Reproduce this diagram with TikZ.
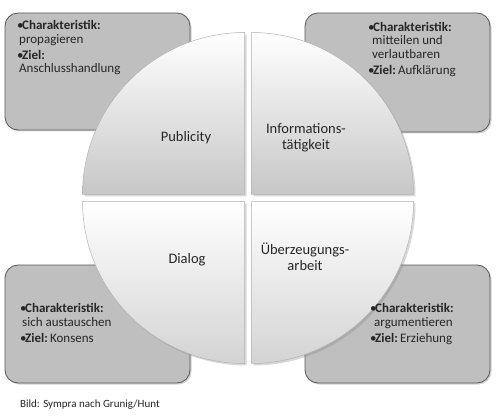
\documentclass[tikz,border=0pt]{standalone}
\usepackage{fontspec}
\setmainfont{Carlito}
\usetikzlibrary{shadows}
\definecolor{boxgray}{HTML}{BFBFBF}
\definecolor{boxedge}{HTML}{595959}
\definecolor{txt}{HTML}{262626}
\newcommand\bul{\makebox[5pt][l]{•}}
\tikzset{
  infobox/.style={draw=boxedge, line width=0.8pt, fill=boxgray, rounded corners=13pt,
     drop shadow={shadow xshift=1.5pt, shadow yshift=-1.5pt, opacity=0.35}},
  quadtop/.style={top color=white, bottom color=black!22, draw=black!30, line width=0.5pt,
     drop shadow={shadow xshift=2pt, shadow yshift=-2pt, opacity=0.3}},
  quadbot/.style={top color=white, bottom color=black!17, draw=black!30, line width=0.5pt,
     drop shadow={shadow xshift=2pt, shadow yshift=-2pt, opacity=0.3}},
  boxtext/.style={anchor=base west, align=left, inner sep=0pt, text=txt,
     font=\fontsize{13}{14}\selectfont},
  quadlabel/.style={anchor=base, align=center, inner sep=0pt, text=txt,
     font=\fontsize{14.5}{16.5}\selectfont},
}
\begin{document}
\begin{tikzpicture}[x=1pt,y=1pt]
\useasboundingbox (0,0) rectangle (500,418);
\fill[white] (0,0) rectangle (500,418);
% boxes
\path[infobox] (5,288) rectangle (190,405);
\path[infobox] (305,286) rectangle (490,405);
\path[infobox] (5,35) rectangle (190,153);
\path[infobox] (305,35) rectangle (490,153);
% quadrants
\path[quadtop] (244.5,223.5) -- (82.5,223.5) arc[start angle=180,end angle=90,radius=162] -- cycle;
\path[quadtop] (251.5,223.5) -- (251.5,385.5) arc[start angle=90,end angle=0,radius=162] -- cycle;
\path[quadbot] (244.5,216.5) -- (82.5,216.5) arc[start angle=180,end angle=270,radius=162] -- cycle;
\path[quadbot] (251.5,216.5) -- (251.5,54.5) arc[start angle=270,end angle=360,radius=162] -- cycle;
% box texts (anchored at the baseline of the last line)
\node[boxtext] (tl) at (17,345) {\bul\textbf{Charakteristik:}\\[-0.5pt]\hspace*{2pt}propagieren\\[2pt]\bul\textbf{Ziel:}\\[-0.5pt]\hspace*{2pt}Anschlusshandlung};
\node[boxtext] (tr) at (368,343) {\bul\textbf{Charakteristik:}\\[-0.5pt]\hspace*{4pt}mitteilen und\\\hspace*{4pt}verlautbaren\\[2pt]\bul\textbf{Ziel:}\,Aufklärung};
\node[boxtext] (bl) at (20,76) {\bul\textbf{Charakteristik:}\\[-0.5pt]\hspace*{2pt}sich austauschen\\[2pt]\bul\textbf{Ziel:}\,Konsens};
\node[boxtext] (br) at (370,76) {\bul\textbf{Charakteristik:}\\[-0.5pt]\hspace*{4pt}argumentieren\\[2pt]\bul\textbf{Ziel:}\,Erziehung};
% quadrant labels
\node[quadlabel] (pub) at (186,276) {Publicity};
\node[quadlabel] (inf) at (306,268) {Informations-\\tätigkeit};
\node[quadlabel] (dia) at (187,155) {Dialog};
\node[quadlabel] (ueb) at (305,147.5) {Überzeugungs-\\arbeit};
% caption
\node[anchor=base west, inner sep=0pt, text=txt, font=\fontsize{11}{13}\selectfont] (cap) at (20,11) {Bild: Sympra nach Grunig/Hunt};
\end{tikzpicture}
\end{document}
